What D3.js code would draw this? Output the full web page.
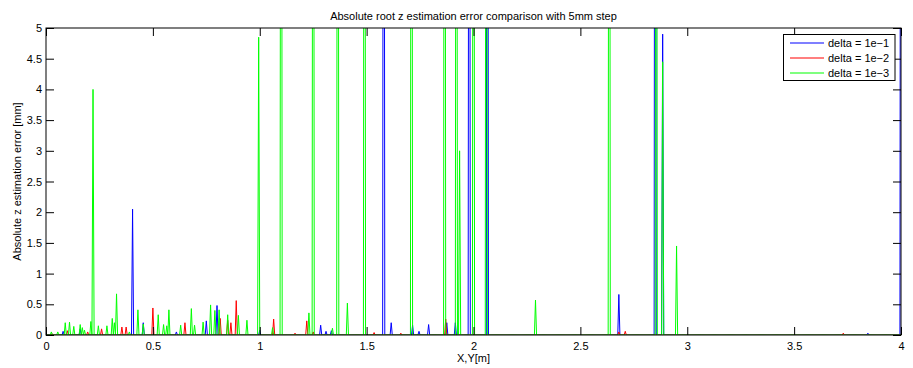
<!DOCTYPE html>
<html>
<head>
<meta charset="utf-8">
<script src="https://cdn.jsdelivr.net/npm/d3@7"></script>
<style>
  body { margin: 0; background: #fff; }
  svg { display: block; font-family: "Liberation Sans", Arial, Helvetica, sans-serif; }
</style>
</head>
<body>
<div id="chart"></div>
<script>
// ---- Data ----
// Sampling grid: 0 .. 4 m with a 5 mm step
const xMin = 0, xMax = 4, xStepMm = 5;
const xTicks = [0, 0.5, 1, 1.5, 2, 2.5, 3, 3.5, 4];
const yTicks = [0, 0.5, 1, 1.5, 2, 2.5, 3, 3.5, 4, 4.5, 5];
const seriesNames = ["delta = 1e\u22121", "delta = 1e\u22122", "delta = 1e\u22123"];
const seriesColors = ["#0000ff", "#ff0000", "#00ff00"];

// Non-zero error samples of each series (x in m, error in mm); all other samples ~0.
// Values above 5 mm run off the top of the axes (clipped).
const blueX = [0.08, 0.16, 0.405, 0.455, 0.61, 0.75, 0.80, 1.0, 1.285, 1.31, 1.335, 1.58, 1.615, 1.715, 1.745, 1.79, 1.875, 1.915, 1.98, 2.065, 2.68, 2.85, 2.885, 3.845, 4.0];
const blueY = [0.06, 0.10, 2.05, 0.20, 0.05, 0.23, 0.48, 0.08, 0.16, 0.06, 0.07, 20, 0.20, 0.16, 0.06, 0.17, 0.20, 0.20, 20, 20, 0.66, 20, 4.9, 0.03, 20];

const redX = [0.03, 0.10, 0.195, 0.26, 0.355, 0.375, 0.5, 0.65, 0.815, 0.85, 0.865, 0.89, 1.065, 1.165, 1.22, 1.25, 1.535, 1.66, 1.87, 2.68, 2.71, 3.73];
const redY = [0.02, 0.07, 0.05, 0.10, 0.13, 0.13, 0.44, 0.20, 0.27, 0.24, 0.20, 0.56, 0.26, 0.03, 0.23, 0.05, 0.04, 0.03, 0.26, 0.05, 0.06, 0.03];

const greenX = [0.025, 0.055, 0.09, 0.11, 0.13, 0.16, 0.17, 0.18, 0.21, 0.22, 0.245, 0.285, 0.31, 0.32, 0.33, 0.39, 0.43, 0.455, 0.525, 0.55, 0.565, 0.575, 0.63, 0.68, 0.695, 0.735, 0.77, 0.79, 0.81, 0.85, 0.9, 0.94, 0.995, 1.06, 1.1, 1.23, 1.25, 1.34, 1.365, 1.41, 1.49, 1.71, 1.865, 1.92, 1.935, 2.0, 2.06, 2.29, 2.635, 2.855, 2.885, 2.95];
const greenY = [0.05, 0.05, 0.20, 0.21, 0.14, 0.17, 0.12, 0.08, 0.22, 4.0, 0.15, 0.15, 0.27, 0.20, 0.67, 0.05, 0.41, 0.18, 0.33, 0.17, 0.15, 0.41, 0.16, 0.43, 0.16, 0.21, 0.49, 0.40, 0.41, 0.33, 0.32, 0.24, 4.85, 0.12, 20, 0.36, 20, 0.11, 20, 0.52, 20, 20, 20, 20, 3.0, 20, 20, 0.57, 20, 20, 4.45, 1.45];

const titleText = "Absolute root z estimation error comparison with 5mm step";
const xLabelText = "X,Y[m]";
const yLabelText = "Absolute z estimation error [mm]";

// ---- Build full series on the sampling grid ----
const nSamples = Math.round((xMax - xMin) * 1000 / xStepMm) + 1;
function buildSeries(xs, ys) {
  const m = new Map();
  xs.forEach((x, i) => m.set(Math.round(x * 1000 / xStepMm), ys[i]));
  return d3.range(nSamples).map(i => ({ x: xMin + i * xStepMm / 1000, y: m.has(i) ? m.get(i) : 0 }));
}
const series = [buildSeries(blueX, blueY), buildSeries(redX, redY), buildSeries(greenX, greenY)];

// ---- Layout ----
const W = 913, H = 368;
const L = 46, R = 901, T = 28, B = 335;
const tickLen = 8;

const svg = d3.select("#chart").append("svg").attr("width", W).attr("height", H);

const x = d3.scaleLinear().domain([xMin, xMax]).range([L, R]);
const y = d3.scaleLinear().domain([0, 5]).range([B, T]);

svg.append("defs").append("clipPath").attr("id", "clip")
  .append("rect").attr("x", L).attr("y", T).attr("width", R - L).attr("height", B - T);

const line = d3.line().x(d => x(d.x)).y(d => y(d.y));

const plot = svg.append("g").attr("clip-path", "url(#clip)");
series.forEach((s, i) => {
  plot.append("path").datum(s)
    .attr("d", line)
    .attr("fill", "none")
    .attr("stroke", seriesColors[i])
    .attr("stroke-width", 1)
    .attr("stroke-linejoin", "miter");
});

// ---- Axes (MATLAB style: ticks inward on all sides) ----
const fontSize = 11;
const axB = svg.append("g").attr("transform", `translate(0,${B})`)
  .call(d3.axisBottom(x).tickValues(xTicks).tickFormat(d3.format("")).tickSizeInner(-tickLen).tickSizeOuter(0).tickPadding(5));
const axT = svg.append("g").attr("transform", `translate(0,${T})`)
  .call(d3.axisTop(x).tickValues(xTicks).tickFormat("").tickSizeInner(-tickLen).tickSizeOuter(0));
const axL = svg.append("g").attr("transform", `translate(${L},0)`)
  .call(d3.axisLeft(y).tickValues(yTicks).tickFormat(d3.format("")).tickSizeInner(-tickLen).tickSizeOuter(0).tickPadding(4));
const axR = svg.append("g").attr("transform", `translate(${R},0)`)
  .call(d3.axisRight(y).tickValues(yTicks).tickFormat("").tickSizeInner(-tickLen).tickSizeOuter(0));

[axB, axT, axL, axR].forEach(a => {
  a.select(".domain").remove();
  a.selectAll(".tick line").attr("stroke", "#000").attr("stroke-width", 1);
  a.selectAll("text").attr("font-size", fontSize).attr("fill", "#000").attr("font-family", "Liberation Sans, Arial, sans-serif");
});
axB.selectAll("text").attr("dy", "0.9em");

// box
svg.append("rect").attr("x", L).attr("y", T).attr("width", R - L).attr("height", B - T)
  .attr("fill", "none").attr("stroke", "#000").attr("stroke-width", 1);

// ---- Labels ----
svg.append("text").attr("x", (L + R) / 2).attr("y", 20).attr("text-anchor", "middle")
  .attr("font-size", fontSize).text(titleText);
svg.append("text").attr("x", (L + R) / 2).attr("y", 362).attr("text-anchor", "middle")
  .attr("font-size", fontSize).text(xLabelText);
svg.append("text").attr("transform", `translate(21,${(T + B) / 2}) rotate(-90)`).attr("text-anchor", "middle")
  .attr("font-size", fontSize).text(yLabelText);

// ---- Legend ----
const lg = svg.append("g");
lg.append("rect").attr("x", 783.5).attr("y", 34.5).attr("width", 111.5).attr("height", 46)
  .attr("fill", "#fff").attr("stroke", "#000").attr("stroke-width", 1);
seriesNames.forEach((name, i) => {
  const yy = 43 + i * 15;
  lg.append("line").attr("x1", 790).attr("x2", 824).attr("y1", yy).attr("y2", yy)
    .attr("stroke", seriesColors[i]).attr("stroke-width", 1.2);
  lg.append("text").attr("x", 828).attr("y", yy).attr("dy", "0.35em")
    .attr("font-size", fontSize).text(name);
});
</script>
</body>
</html>
